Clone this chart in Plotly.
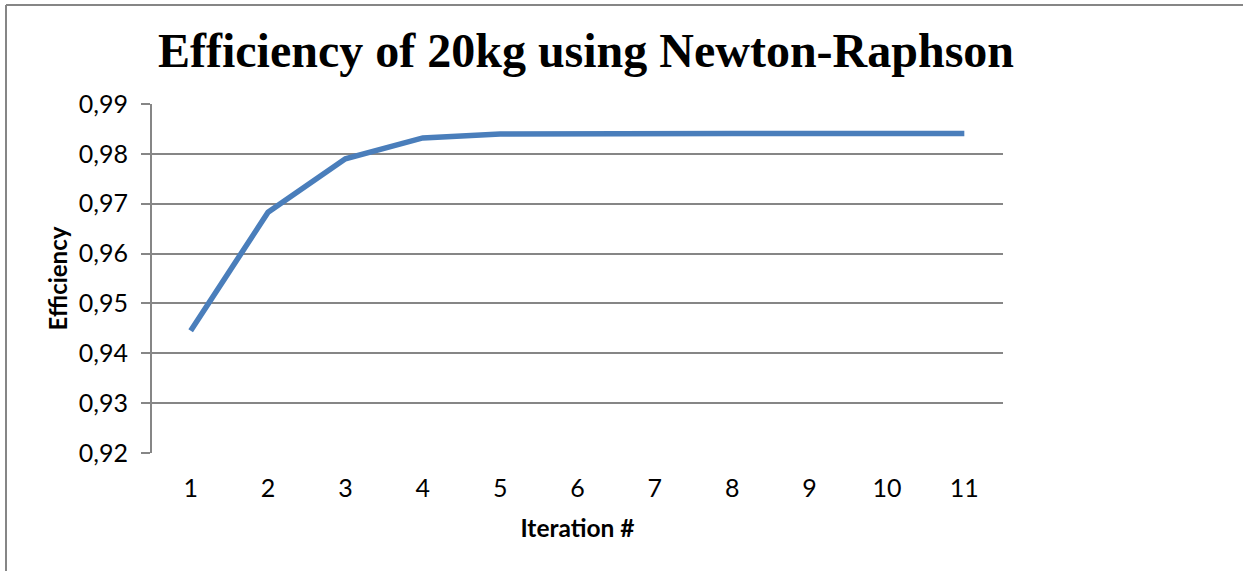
import plotly.graph_objects as go

iterations = [1, 2, 3, 4, 5, 6, 7, 8, 9, 10, 11]
efficiency = [0.9445, 0.9683, 0.9790, 0.9832, 0.9840, 0.9841, 0.9841, 0.9841, 0.9841, 0.9841, 0.9841]
y_ticks = [0.92, 0.93, 0.94, 0.95, 0.96, 0.97, 0.98, 0.99]

W, H = 1243, 571
ml, mr, mt, mb = 152, 240, 104, 118
pw, ph = W - ml - mr, H - mt - mb

fig = go.Figure()
fig.add_trace(go.Scatter(
    x=iterations, y=efficiency, mode="lines",
    line=dict(color="#4A7EBB", width=5.5),
    showlegend=False, hoverinfo="skip",
))

grid = "#868686"
fig.update_layout(
    width=W, height=H,
    margin=dict(l=ml, r=mr, t=mt, b=mb),
    paper_bgcolor="white", plot_bgcolor="white",
    separators=", ",
    title=dict(
        text="<b>Efficiency of 20kg using Newton-Raphson</b>",
        font=dict(family="Liberation Serif", size=48, color="black"),
        x=(586) / W, xanchor="center", y=1 - 50 / H, yanchor="middle",
    ),
    xaxis=dict(
        range=[0.5, 11.5], tickvals=iterations, ticktext=[str(i) for i in iterations],
        showgrid=False, zeroline=False, showline=False, ticks="",
        tickfont=dict(family="Lato", size=25, color="black"),
        ticklabelstandoff=18,
        title=dict(text="<b>Iteration #</b>", font=dict(family="Lato", size=24.5, color="black"), standoff=18),
    ),
    yaxis=dict(
        range=[0.92, 0.99], tickvals=y_ticks, tickformat=".2f",
        showgrid=True, gridcolor=grid, gridwidth=2, zeroline=False,
        showline=True, linecolor=grid, linewidth=2,
        ticks="outside", ticklen=9, tickwidth=2, tickcolor=grid,
        ticklabelstandoff=8,
        tickfont=dict(family="Lato", size=25, color="black"),
        title=dict(text="<b>Efficiency</b>", font=dict(family="Lato", size=24, color="black"), standoff=4),
    ),
    shapes=[
        dict(type="line", xref="paper", yref="paper",
             x0=(6 - ml) / pw, x1=(W - ml) / pw, y0=(H - mb - 5) / ph, y1=(H - mb - 5) / ph,
             line=dict(color=grid, width=2)),
        dict(type="line", xref="paper", yref="paper",
             x0=(6 - ml) / pw, x1=(6 - ml) / pw, y0=(H - mb - 5) / ph, y1=-mb / ph,
             line=dict(color=grid, width=2)),
    ],
)

fig.write_html("out.html")
